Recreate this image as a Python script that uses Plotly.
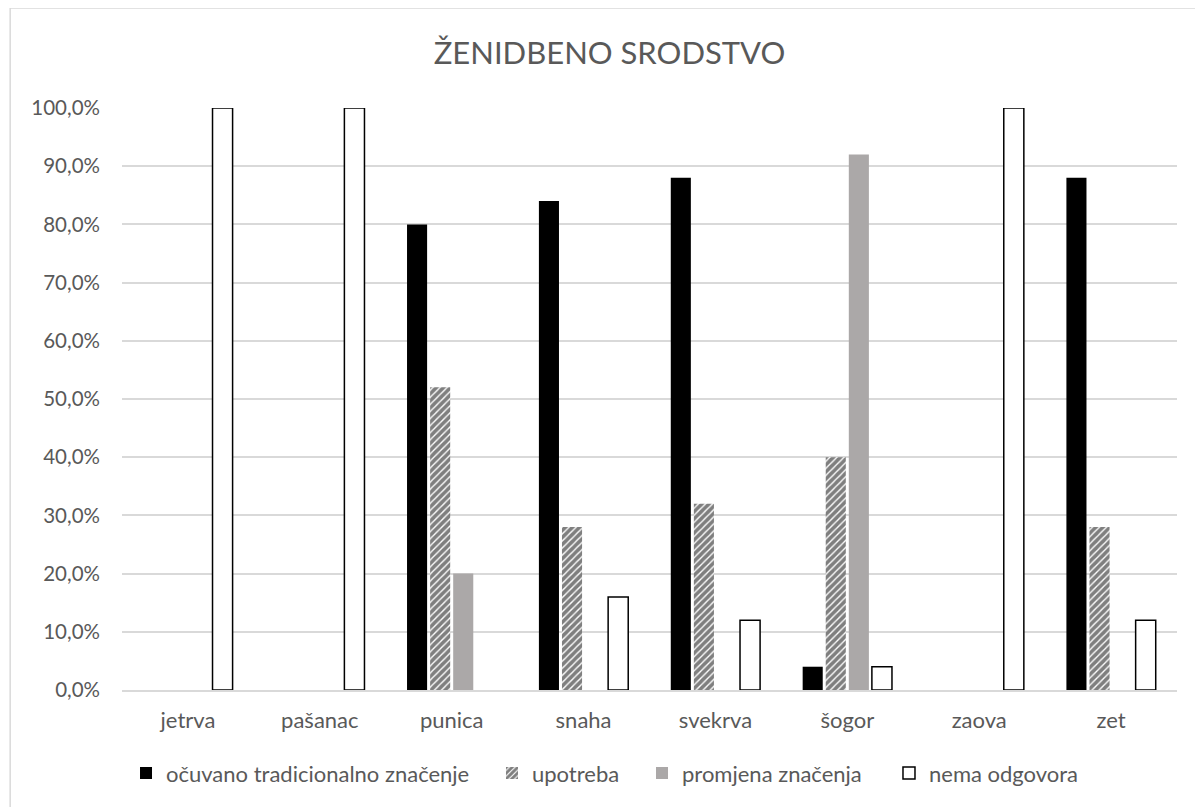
import plotly.graph_objects as go

categories = ["jetrva", "pašanac", "punica", "snaha", "svekrva", "šogor", "zaova", "zet"]
ocuvano = [0, 0, 80, 84, 88, 4, 0, 88]
upotreba = [0, 0, 52, 28, 32, 40, 0, 28]
promjena = [0, 0, 20, 0, 0, 92, 0, 0]
nema = [100, 100, 0, 16, 12, 4, 100, 12]
series_names = ["očuvano tradicionalno značenje", "upotreba", "promjena značenja", "nema odgovora"]
title_text = "ŽENIDBENO SRODSTVO"
y_ticks = [0, 10, 20, 30, 40, 50, 60, 70, 80, 90, 100]
y_tick_labels = [f"{v:.1f}".replace(".", ",") + "%" for v in y_ticks]


def nz(vals):
    return [v if v != 0 else None for v in vals]


FONT = "Lato, 'Open Sans', sans-serif"
TXT = "#595959"
FS = 22

fig = go.Figure()
fig.add_trace(go.Bar(x=categories, y=nz(ocuvano), name=series_names[0], legend="legend",
                     marker=dict(color="#000000", line=dict(width=0))))
fig.add_trace(go.Bar(x=categories, y=nz(upotreba), name=series_names[1], legend="legend2",
                     marker=dict(color="#ffffff", line=dict(width=0),
                                 pattern=dict(shape="/", fgcolor="#000000", bgcolor="#ffffff",
                                              size=5, solidity=0.72))))
fig.add_trace(go.Bar(x=categories, y=nz(promjena), name=series_names[2], legend="legend3",
                     marker=dict(color="#ABA8A8", line=dict(width=0))))
fig.add_trace(go.Bar(x=categories, y=nz(nema), name=series_names[3], legend="legend4",
                     marker=dict(color="#ffffff", line=dict(color="#000000", width=1.5))))

leg_common = dict(orientation="h", xref="paper", xanchor="left", y=-0.143, yanchor="middle",
                  font=dict(family=FONT, size=FS, color=TXT), itemwidth=30,
                  bgcolor="rgba(0,0,0,0)")

fig.update_layout(
    width=1203, height=807,
    margin=dict(l=114, r=34, t=100, b=125, autoexpand=False),
    paper_bgcolor="#ffffff", plot_bgcolor="#ffffff",
    barmode="group", bargap=0.3, bargroupgap=0.13,
    font=dict(family=FONT, color=TXT, size=FS),
    title=dict(text=title_text, x=0.5, xref="container", xanchor="center",
               y=0.944, yref="container", yanchor="middle",
               font=dict(family=FONT, size=31, color=TXT)),
    showlegend=True,
    legend=dict(x=0.0038, **leg_common),
    legend2=dict(x=0.3507, **leg_common),
    legend3=dict(x=0.4929, **leg_common),
    legend4=dict(x=0.7270, **leg_common),
    shapes=[dict(type="rect", xref="paper", yref="paper", x0=-0.106, x1=1.019,
                 y0=-0.25, y1=1.1718, line=dict(color="#D9D9D9", width=1.5),
                 fillcolor="rgba(0,0,0,0)", layer="below")],
)
fig.update_xaxes(showline=True, linecolor="#D9D9D9", linewidth=1.5, showgrid=False,
                 ticks="", tickangle=0, tickfont=dict(size=FS, color=TXT),
                 ticklabelstandoff=10)
fig.update_yaxes(range=[0, 100], tickvals=y_ticks, ticktext=y_tick_labels,
                 showgrid=True, gridcolor="#D9D9D9", gridwidth=1.5, zeroline=False,
                 showline=False, ticks="", tickfont=dict(size=20.5, color=TXT),
                 ticklabelstandoff=21)

fig.write_html("out.html")
